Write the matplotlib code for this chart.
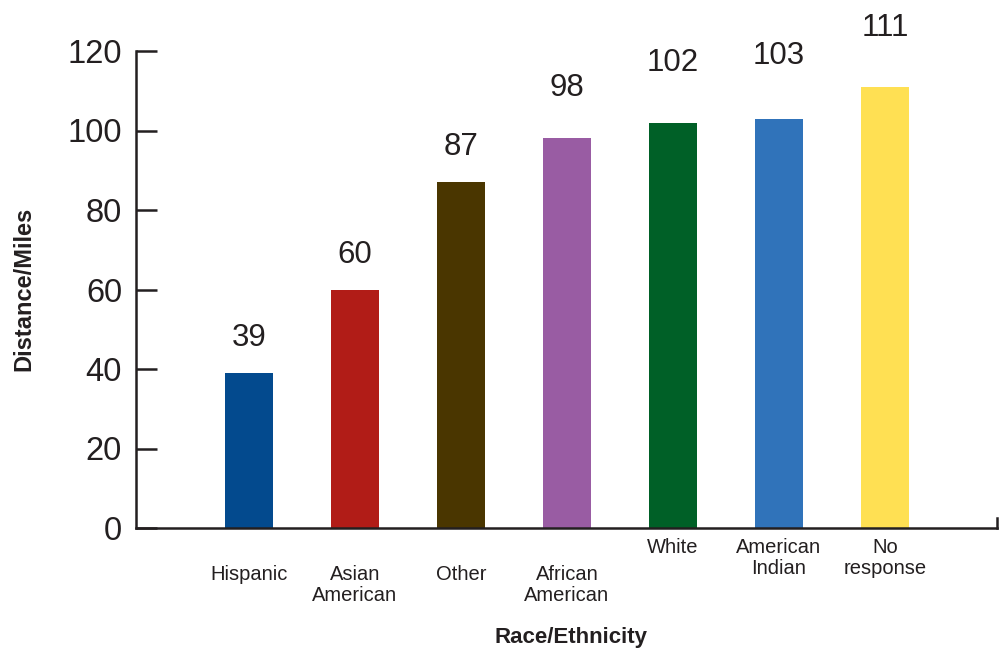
import matplotlib
matplotlib.use("Agg")
import matplotlib.pyplot as plt

# Average distance travelled, by race/ethnicity
categories = ["Hispanic", "Asian\nAmerican", "Other", "African\nAmerican",
              "White", "American\nIndian", "No\nresponse"]
miles = [39, 60, 87, 98, 102, 103, 111]
bar_colors = ["#034A8E", "#B11C17", "#4A3600", "#995CA3",
              "#006027", "#3073BA", "#FFE053"]
y_ticks = [0, 20, 40, 60, 80, 100, 120]

# label placement (points above bar top / row of category label)
value_lift = [25, 25, 25, 36, 43, 45, 42]
label_row = [1, 1, 1, 1, 0, 0, 0]

ink = "#231F20"
plt.rcParams["font.family"] = ["Liberation Sans", "DejaVu Sans"]

fig = plt.figure(figsize=(10.05, 6.51), dpi=100)
ax = fig.add_axes([136 / 1005, (651 - 528) / 651, (997 - 136) / 1005, (528 - 51) / 651])

x = list(range(len(miles)))
ax.bar(x, miles, width=0.453, color=bar_colors, zorder=2)

ax.set_xlim(-1.066, 7.057)
ax.set_ylim(0, 120)
ax.set_yticks(y_ticks)
ax.set_yticklabels([str(t) for t in y_ticks])
ax.set_xticks([])

ax.spines["top"].set_visible(False)
for side in ("left", "bottom", "right"):
    ax.spines[side].set_color(ink)
    ax.spines[side].set_linewidth(1.8)
ax.spines["right"].set_bounds(0, 2.6)

ax.tick_params(axis="y", direction="in", length=15, width=1.8, color=ink,
               labelsize=23.5, labelcolor=ink, pad=10)

for xi, v, lift in zip(x, miles, value_lift):
    ax.annotate(str(v), xy=(xi, v), xytext=(0, lift), textcoords="offset points",
                ha="center", va="center", fontsize=22.5, color=ink, annotation_clip=False)

for xi, name, row in zip(x, categories, label_row):
    drop = -7 if row == 0 else -27
    ax.annotate(name, xy=(xi, 0), xytext=(0, drop), textcoords="offset points",
                ha="center", va="top", fontsize=14.5, color=ink,
                linespacing=1.12, annotation_clip=False)

fig.text(571 / 1005, 1 - 638 / 651, "Race/Ethnicity", ha="center", va="center",
         fontsize=16, fontweight="bold", color=ink)
fig.text(24 / 1005, 1 - 289 / 651, "Distance/Miles", ha="center", va="center",
         rotation=90, fontsize=17, fontweight="bold", color=ink)

fig.savefig("out.png", dpi=100)
